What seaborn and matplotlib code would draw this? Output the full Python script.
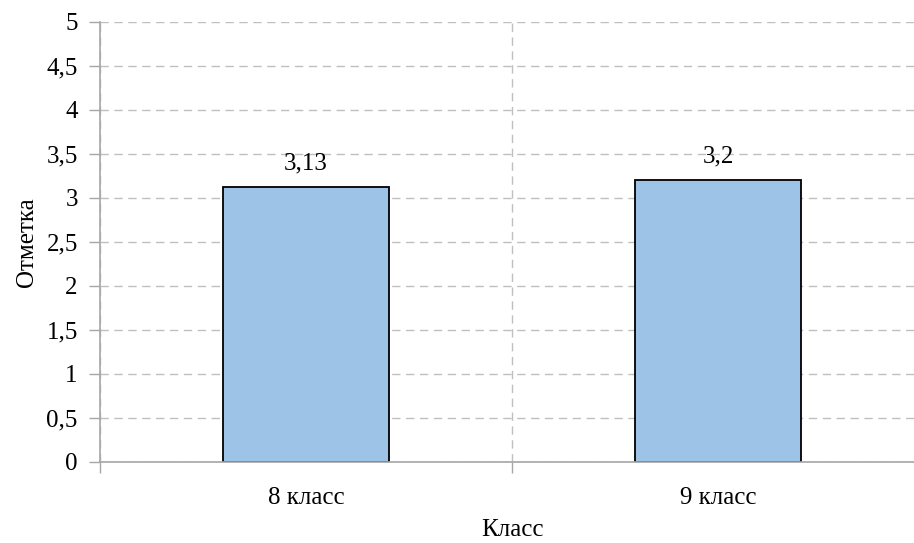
import matplotlib
matplotlib.use("Agg")
import matplotlib.pyplot as plt
from matplotlib.ticker import FixedLocator, FuncFormatter
import seaborn as sns
import pandas as pd

classes = ["8 класс", "9 класс"]
marks = [3.13, 3.2]
mark_labels = ["3,13", "3,2"]
y_ticks = [0, 0.5, 1, 1.5, 2, 2.5, 3, 3.5, 4, 4.5, 5]

sns.set_theme(style="white")
plt.rcParams["font.family"] = ["Liberation Serif", "DejaVu Serif"]

df = pd.DataFrame({"Класс": classes, "Отметка": marks})

fig = plt.figure(figsize=(9.14, 5.43), dpi=100)
ax = fig.add_axes([100 / 914, 1 - 462 / 543, 824 / 914, 440 / 543])

sns.barplot(data=df, x="Класс", y="Отметка", color="#9DC3E6", width=0.403,
            edgecolor="black", linewidth=1.3, saturation=1, ax=ax, zorder=3)

ax.set_xlim(-0.5, 1.5)
ax.set_ylim(0, 5)
ax.set_yticks(y_ticks)
ax.yaxis.set_major_formatter(FuncFormatter(lambda v, p: f"{v:g}".replace(".", ",")))

ax.xaxis.set_minor_locator(FixedLocator([-0.5, 0.5, 1.5]))
ax.tick_params(axis="x", which="major", length=0, labelsize=18, pad=18, colors="black")
ax.tick_params(axis="x", which="minor", length=8, width=1, color="#A6A6A6", direction="out")
ax.tick_params(axis="y", which="major", length=8, width=1, color="#A6A6A6",
               labelsize=18, pad=8, labelcolor="black", direction="out")
ax.xaxis.set_ticks_position("bottom")
ax.yaxis.set_ticks_position("left")

ax.grid(axis="y", which="major", color="#BFBFBF", linestyle=(0, (6, 4)), linewidth=1, zorder=0)
ax.grid(axis="x", which="minor", color="#BFBFBF", linestyle=(0, (6, 4)), linewidth=1, zorder=0)
ax.grid(axis="x", which="major", visible=False)

for side in ["top", "right"]:
    ax.spines[side].set_visible(False)
for side in ["left", "bottom"]:
    ax.spines[side].set_color("#A6A6A6")
    ax.spines[side].set_linewidth(1.2)
    ax.spines[side].set_zorder(4)

for i, (v, t) in enumerate(zip(marks, mark_labels)):
    ax.annotate(t, (i, v), xytext=(0, 9), textcoords="offset points",
                ha="center", va="bottom", fontsize=18, color="black")

ax.set_xlabel("Класс", fontsize=18, labelpad=7, color="black")
ax.set_ylabel("Отметка", fontsize=18, labelpad=6, color="black")

fig.savefig("out.png", dpi=100, facecolor="white")
